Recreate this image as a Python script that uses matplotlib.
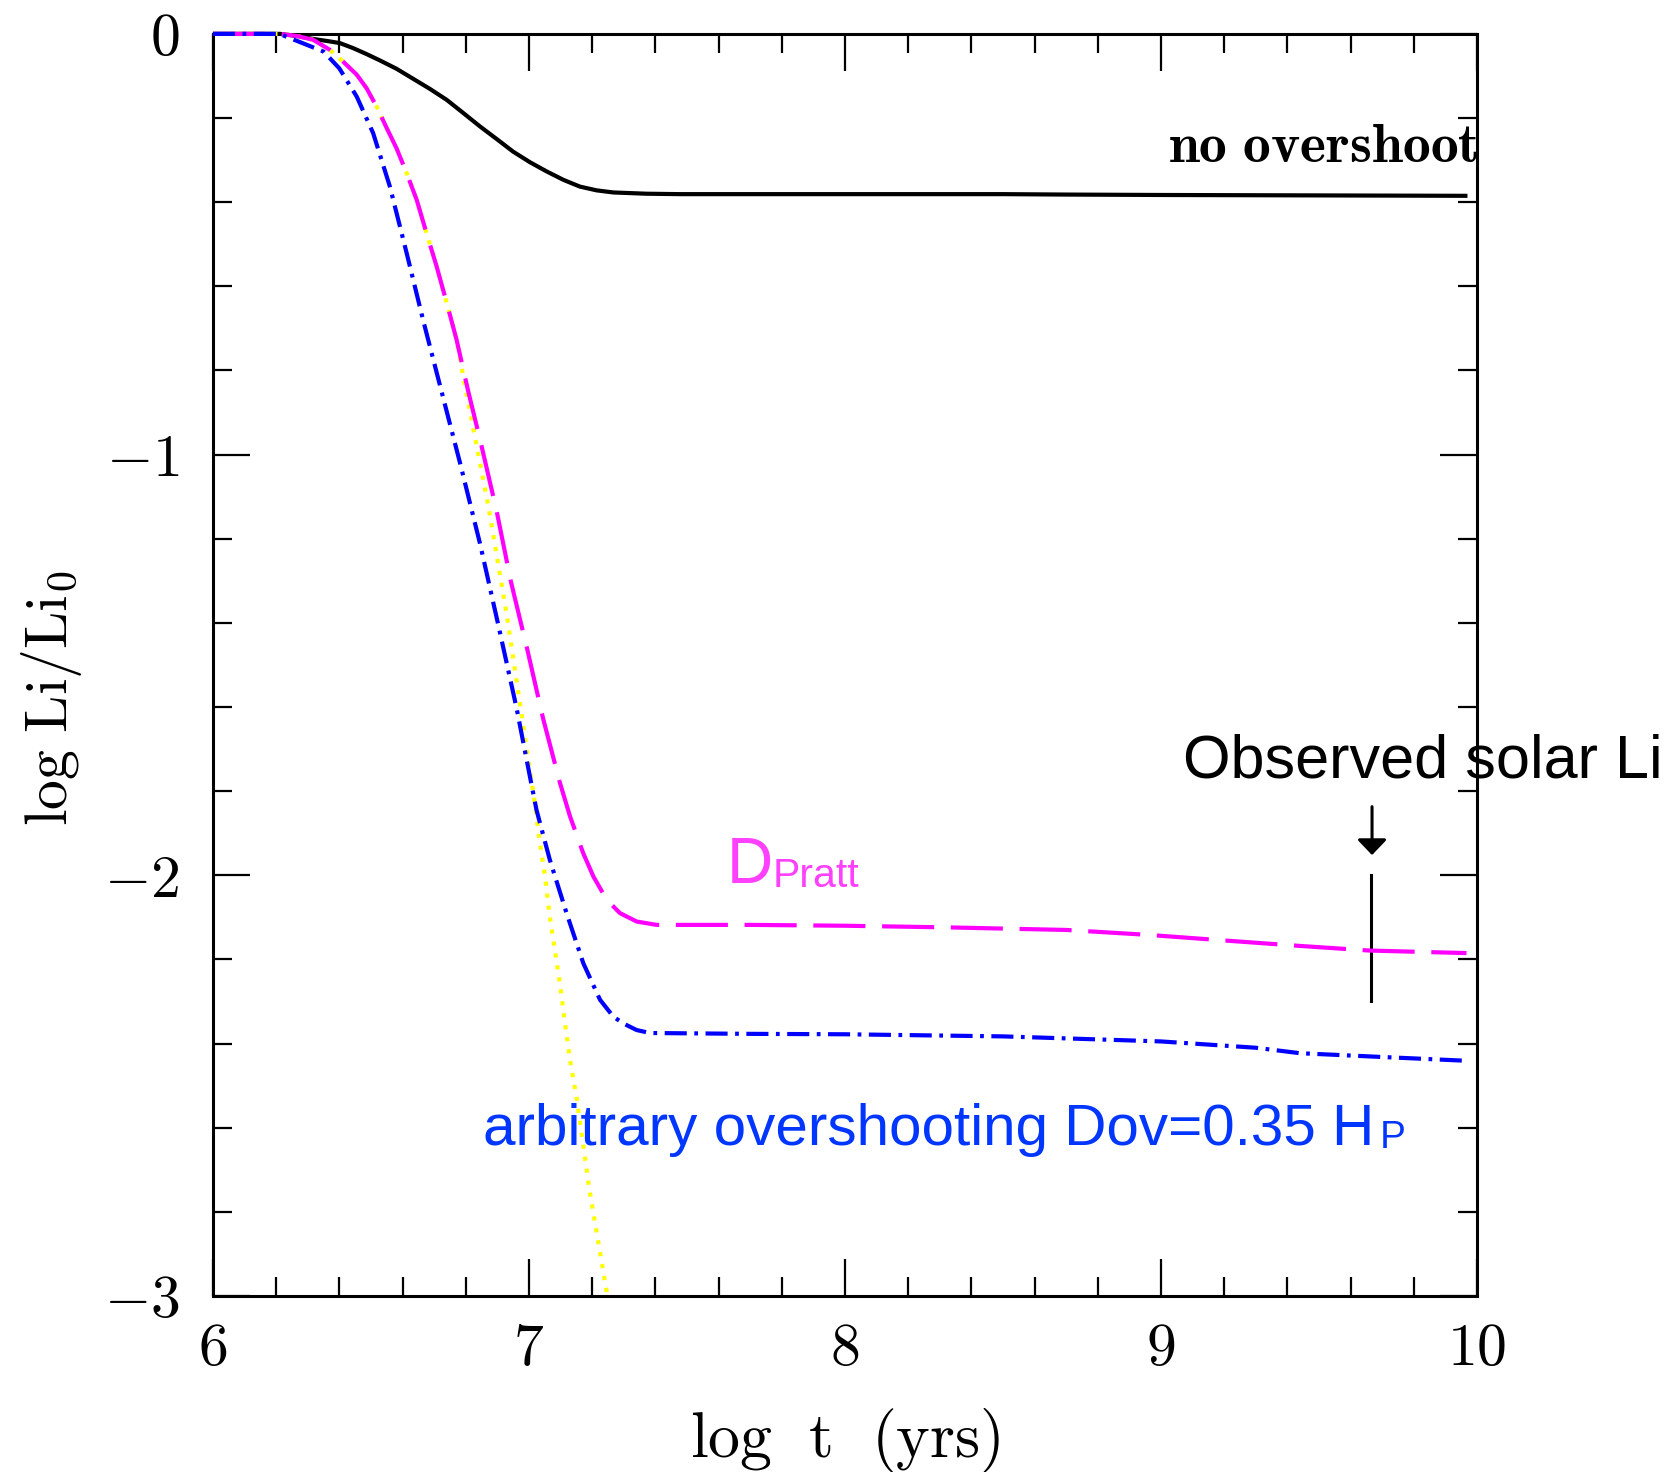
import matplotlib
matplotlib.use("Agg")
import matplotlib.pyplot as plt
from matplotlib.ticker import MultipleLocator, FixedLocator, FixedFormatter

plt.rcParams['mathtext.fontset'] = 'cm'
plt.rcParams['font.family'] = ['Liberation Sans', 'DejaVu Sans']

# ---- data (log t [yr], log Li/Li0) ----
noov_x = [6.0, 6.212, 6.265, 6.317, 6.370, 6.402, 6.444, 6.486, 6.528, 6.581, 6.634, 6.687, 6.740, 6.792,
          6.845, 6.898, 6.950, 7.003, 7.056, 7.109, 7.161, 7.214, 7.267, 7.372, 7.478, 8.0, 8.5, 8.7, 9.0, 9.5, 9.97]
noov_y = [0.0, 0.0, -0.005, -0.012, -0.018, -0.022, -0.034, -0.048, -0.063, -0.083, -0.107, -0.131, -0.157, -0.188,
          -0.220, -0.250, -0.280, -0.305, -0.327, -0.347, -0.363, -0.372, -0.377, -0.380, -0.381, -0.381, -0.381,
          -0.382, -0.383, -0.384, -0.385]

pratt_x = [6.0, 6.212, 6.265, 6.317, 6.370, 6.412, 6.455, 6.486, 6.518, 6.550, 6.581, 6.613, 6.645, 6.676,
           6.708, 6.740, 6.771, 6.808, 6.848, 6.898, 6.943, 6.995, 7.045, 7.098, 7.130, 7.172, 7.204, 7.246,
           7.288, 7.341, 7.404, 7.7, 8.0, 8.33, 8.7, 8.965, 9.2, 9.44, 9.66, 9.967]
pratt_y = [0.0, 0.0, -0.005, -0.014, -0.038, -0.066, -0.097, -0.129, -0.173, -0.224, -0.272, -0.331, -0.395, -0.474,
           -0.553, -0.640, -0.727, -0.850, -0.973, -1.135, -1.302, -1.464, -1.628, -1.780, -1.860, -1.948, -2.003, -2.058,
           -2.090, -2.110, -2.118, -2.118, -2.12, -2.124, -2.13, -2.142, -2.155, -2.168, -2.179, -2.185]

ov_x = [6.0, 6.21, 6.35, 6.40, 6.455, 6.507, 6.56, 6.613, 6.665, 6.72, 6.782, 6.845, 6.903, 6.961, 7.003,
        7.024, 7.066, 7.119, 7.172, 7.225, 7.267, 7.298, 7.341, 7.383, 7.7, 8.0, 8.5, 9.0, 9.3, 9.44, 9.7, 9.967]
ov_y = [0.0, 0.0, -0.042, -0.082, -0.149, -0.236, -0.363, -0.521, -0.68, -0.84, -1.02, -1.211, -1.405, -1.603, -1.765,
        -1.845, -1.963, -2.09, -2.209, -2.296, -2.336, -2.352, -2.368, -2.375, -2.377, -2.378, -2.383, -2.395, -2.41,
        -2.423, -2.432, -2.441]

nomix_x = [6.0, 6.212, 6.265, 6.317, 6.370, 6.412, 6.455, 6.486, 6.518, 6.550, 6.581, 6.613, 6.645, 6.676,
           6.708, 6.740, 6.771, 6.797, 6.871, 6.929, 6.998, 7.014, 7.035, 7.051, 7.066, 7.082, 7.098, 7.114,
           7.130, 7.151, 7.193, 7.246, 7.248]
nomix_y = [0.0, 0.0, -0.005, -0.014, -0.038, -0.066, -0.097, -0.129, -0.173, -0.224, -0.272, -0.331, -0.395, -0.474,
           -0.553, -0.640, -0.727, -0.834, -1.12, -1.377, -1.726, -1.805, -1.924, -2.003, -2.098, -2.177, -2.257, -2.352,
           -2.439, -2.53, -2.755, -2.99, -3.0]

sun_age = 9.664
sun_li_range = [-2.0, -2.30]

xticks = [6, 7, 8, 9, 10]
xticklabels = [r'$6$', r'$7$', r'$8$', r'$9$', r'$10$']
yticks = [0, -1, -2, -3]
yticklabels = [r'$0$', r'$-1$', r'$-2$', r'$-3$']

# ---- figure ----
fig = plt.figure(figsize=(16.7, 14.72), dpi=100)
ax = fig.add_axes([0.1275, 0.1196, 0.8844 - 0.1275, 0.977 - 0.1196])

lw = 3.0
kw = dict(lw=lw, zorder=3, clip_on=False)
ax.plot(noov_x, noov_y, color='black', solid_capstyle='butt', **kw)
ax.plot(nomix_x, nomix_y, color='#ffff00', dashes=(1.0, 1.9), dash_capstyle='butt', **kw)
ax.plot(pratt_x, pratt_y, color='#ff00ff', dashes=(12.5, 4.0), dash_capstyle='butt', **kw)
ax.plot(ov_x, ov_y, color='#0000ff', dashes=(5.3, 1.8, 0.9, 1.8), dash_capstyle='butt', **kw)

# observed solar Li
ax.plot([sun_age, sun_age], sun_li_range, color='black', lw=2.2)
ax.annotate('', xy=(sun_age + 0.004, -1.952), xytext=(sun_age + 0.004, -1.837),
            arrowprops=dict(arrowstyle='-|>,head_width=0.45,head_length=0.47', mutation_scale=20,
                            color='black', lw=2.2, shrinkA=0, shrinkB=0))

ax.set_xlim(6, 10)
ax.set_ylim(-3, 0)

ax.xaxis.set_major_locator(FixedLocator(xticks))
ax.xaxis.set_major_formatter(FixedFormatter(xticklabels))
ax.yaxis.set_major_locator(FixedLocator(yticks))
ax.yaxis.set_major_formatter(FixedFormatter(yticklabels))
ax.xaxis.set_minor_locator(MultipleLocator(0.2))
ax.yaxis.set_minor_locator(MultipleLocator(0.2))

ax.tick_params(which='both', direction='in', top=True, right=True, width=1.6, color='black')
ax.tick_params(which='major', length=26.6)
ax.tick_params(which='minor', length=13.7)
ax.tick_params(axis='x', which='major', labelsize=43, pad=19)
ax.tick_params(axis='y', which='major', labelsize=43, pad=24)
for s in ax.spines.values():
    s.set_linewidth(2.2)

fig.text(0.506, 0.0104, r'$\mathrm{log\ \ t\ \ (yrs)}$', fontsize=46, ha='center', va='baseline')
fig.text(0.031, 0.5255, r'$\mathrm{log\ Li/Li_0}$', fontsize=43, ha='center', va='center', rotation=90)

# annotations
ax.text(10.005, -0.304, r'$\mathbf{no\ overshoot}$', fontsize=40, ha='right', va='baseline', clip_on=False)
ax.text(9.07, -1.767, 'Observed solar Li', fontsize=44, ha='left', va='baseline', color='black', clip_on=False)
ax.text(7.625, -2.019, 'D', fontsize=46, ha='left', va='baseline', color='#ff40ff')
ax.text(7.772, -2.028, 'Pratt', fontsize=29.5, ha='left', va='baseline', color='#ff40ff')
ax.text(6.856, -2.641, 'arbitrary overshooting Dov=0.35 H', fontsize=42, ha='left', va='baseline', color='#0036ff')
ax.text(9.693, -2.648, 'P', fontsize=28, ha='left', va='baseline', color='#0036ff')

fig.savefig('out.png', dpi=100, facecolor='white')
